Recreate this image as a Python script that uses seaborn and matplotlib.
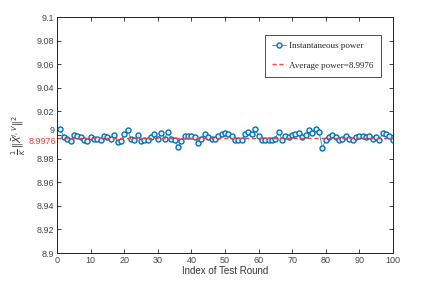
import numpy as np
import pandas as pd
import matplotlib
matplotlib.use("Agg")
import matplotlib.pyplot as plt
import seaborn as sns

# values (index 1..100)
rounds = list(range(1, 101))
power = [
    9.005, 8.998, 8.997, 8.995, 9.000, 8.999, 8.998, 8.996, 8.995, 8.998,
    8.997, 8.997, 8.996, 8.999, 8.998, 8.997, 9.000, 8.994, 8.995, 9.001,
    9.004, 8.997, 8.996, 9.000, 8.995, 8.996, 8.996, 8.998, 9.001, 8.997,
    9.002, 8.997, 9.003, 8.997, 8.996, 8.990, 8.995, 8.999, 8.999, 8.999,
    8.998, 8.993, 8.997, 9.001, 8.998, 8.997, 8.997, 8.999, 9.001, 9.002,
    9.001, 8.999, 8.996, 8.996, 8.996, 9.001, 9.003, 9.001, 9.005, 8.999,
    8.996, 8.996, 8.996, 8.996, 8.997, 9.003, 8.996, 8.999, 8.998, 9.000,
    9.001, 9.002, 8.998, 9.000, 9.004, 9.002, 9.005, 9.003, 8.989, 8.996,
    8.998, 9.000, 8.998, 8.996, 8.997, 8.999, 8.997, 8.996, 8.998, 8.999,
    8.999, 8.998, 8.999, 8.997, 8.998, 8.996, 9.002, 9.001, 8.999, 8.996,
]
avg_power = 8.9976

df = pd.DataFrame({"round": rounds, "power": power})

sns.set_style("ticks")
plt.rcParams["font.family"] = ["Liberation Sans", "DejaVu Sans"]

fig = plt.figure(figsize=(4.36, 2.84), dpi=100)
ax = fig.add_axes([0.131, 0.109, 0.770, 0.831])

sns.lineplot(data=df, x="round", y="power", ax=ax, color="#0072BD",
             linewidth=0.5, marker="o", markersize=3.6, markerfacecolor="#e4f3fb",
             markeredgecolor="#0072BD", markeredgewidth=1.0,
             label="Instantaneous power")
ax.axhline(avg_power, color="#ff4040", linestyle="--", linewidth=1.0,
           dashes=(3, 2), label="Average power=8.9976")

ax.set_xlim(0, 100)
ax.set_ylim(8.9, 9.1)
ax.set_xticks(np.arange(0, 101, 10))
yt = np.round(np.arange(8.9, 9.1001, 0.02), 2)
ax.set_yticks(yt)
ax.set_yticklabels([("%g" % v) for v in yt])
ax.tick_params(direction="in", length=3, width=0.6, labelsize=6.5,
               colors="#222222", labelcolor="#444444", top=True, right=True,
               pad=2)
for s in ax.spines.values():
    s.set_linewidth(0.7)
    s.set_color("#222222")

# nudge the "9" label up and put the red average label just below it
for lab in ax.get_yticklabels():
    if lab.get_text() == "9":
        lab.set_verticalalignment("bottom")
ax.text(-0.4, avg_power + 0.0006, "8.9976", color="#ff3030", fontsize=6.5,
        ha="right", va="top")

ax.set_xlabel("Index of Test Round", fontsize=7, color="#333333", labelpad=1)
ax.set_ylabel(r"$\frac{1}{K}\,\|\bar{X}^{l,V}\|^2$", fontsize=7, color="#333333",
              labelpad=6)

leg = ax.legend(loc="upper right", bbox_to_anchor=(0.97, 0.932), fontsize=6.5,
                frameon=True, fancybox=False, edgecolor="#222222",
                borderpad=0.8, labelspacing=1.2, handlelength=1.5,
                handletextpad=0.4, borderaxespad=0.2)
leg.get_frame().set_linewidth(0.7)
for t in leg.get_texts():
    t.set_family(["Liberation Serif", "DejaVu Serif"])

fig.savefig("out.png", dpi=100)
